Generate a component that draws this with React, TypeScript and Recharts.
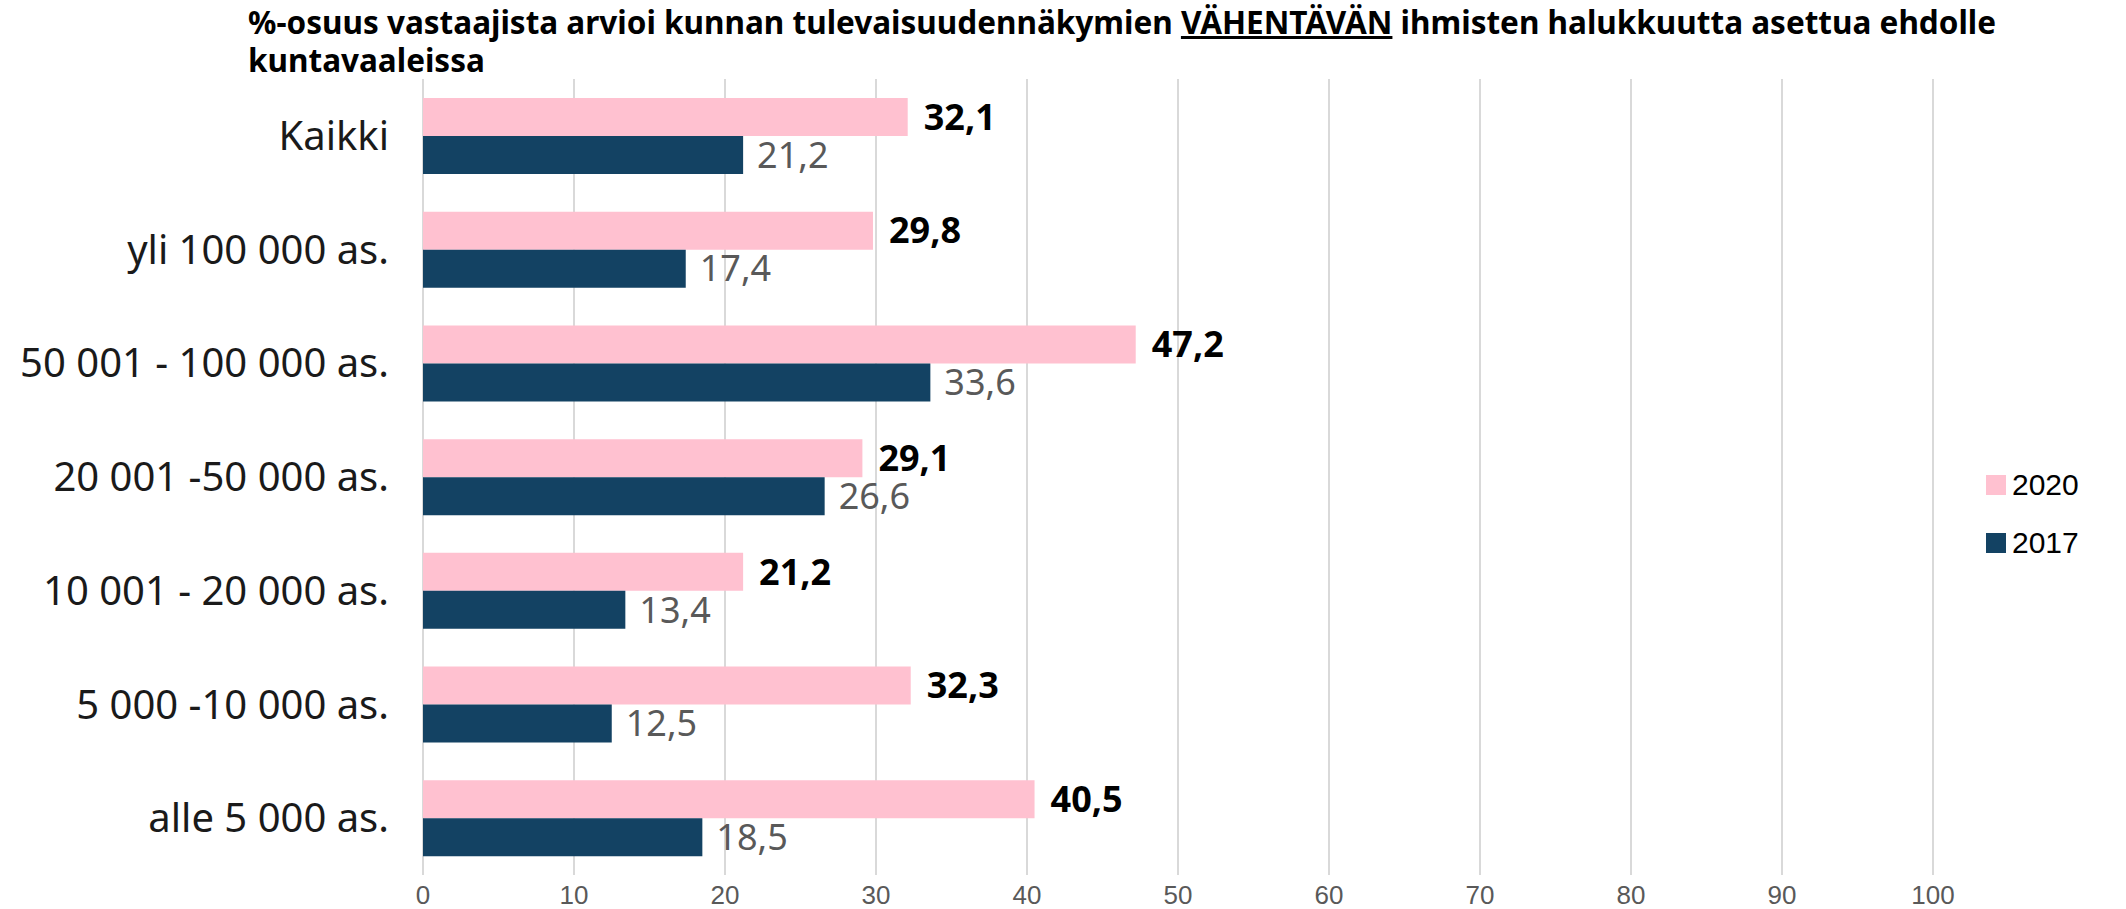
import { BarChart, Bar, XAxis, YAxis, CartesianGrid, LabelList } from 'recharts'

const categories = [
  'Kaikki',
  'yli 100 000 as.',
  '50 001 - 100 000 as.',
  '20 001 -50 000 as.',
  '10 001 - 20 000 as.',
  '5 000 -10 000 as.',
  'alle 5 000 as.',
]
const values2020 = [32.1, 29.8, 47.2, 29.1, 21.2, 32.3, 40.5]
const values2017 = [21.2, 17.4, 33.6, 26.6, 13.4, 12.5, 18.5]
const xTicks = [0, 10, 20, 30, 40, 50, 60, 70, 80, 90, 100]

const PINK = '#FFC1D0'
const NAVY = '#134263'
const FONT = '"Noto Sans", "Open Sans", sans-serif'
const ARIAL = '"Liberation Sans", Arial, sans-serif'

const data = categories.map((name, i) => ({
  name,
  y2020: values2020[i],
  y2017: values2017[i],
}))

const fmt = (v: any) => String(v).replace('.', ',')

function LegendBox() {
  const items = [
    { label: '2020', color: PINK },
    { label: '2017', color: NAVY },
  ]
  return (
    <div
      style={{
        position: 'absolute',
        left: 1986,
        top: 456,
        fontFamily: ARIAL,
        fontSize: 30,
        color: '#000',
      }}
    >
      {items.map(it => (
        <div key={it.label} style={{ display: 'flex', alignItems: 'center', height: 58 }}>
          <span style={{ width: 20, height: 20, background: it.color, display: 'inline-block', marginRight: 6 }} />
          <span>{it.label}</span>
        </div>
      ))}
    </div>
  )
}

const titleLine = {
  position: 'absolute' as const,
  left: 248,
  fontFamily: FONT,
  fontWeight: 700,
  fontSize: 31.5,
  lineHeight: '36px',
  height: 36,
  color: '#000',
  whiteSpace: 'nowrap' as const,
  zIndex: 2,
}

export default function App() {
  return (
    <div style={{ position: 'relative', width: 2126, height: 909, background: '#fff' }}>
      <style>{`body{margin:0}`}</style>
      <div style={{ ...titleLine, top: 4 }}>
        %-osuus vastaajista arvioi kunnan tulevaisuudennäkymien <u>VÄHENTÄVÄN</u> ihmisten halukkuutta asettua ehdolle
      </div>
      <div style={{ ...titleLine, top: 42 }}>kuntavaaleissa</div>
      <BarChart
        width={2126}
        height={909}
        data={data}
        layout="vertical"
        margin={{ top: 79, right: 193, bottom: 0, left: 0 }}
        barSize={38}
        barGap={0}
      >
        <CartesianGrid horizontal={false} stroke="#d9d9d9" strokeWidth={2} />
        <XAxis
          type="number"
          domain={[0, 100]}
          ticks={xTicks}
          height={34}
          axisLine={false}
          tickLine={false}
          tick={{ fill: '#595959', fontSize: 26, fontFamily: ARIAL }}
          tickMargin={5}
        />
        <YAxis
          type="category"
          dataKey="name"
          width={423}
          axisLine={false}
          tickLine={false}
          tickMargin={28}
          tick={{ fill: '#1a1a1a', fontSize: 40, fontFamily: FONT }}
        />
        <Bar dataKey="y2020" name="2020" fill={PINK} isAnimationActive={false}>
          <LabelList
            dataKey="y2020"
            position="right"
            offset={16}
            formatter={fmt}
            style={{ fill: '#000', fontWeight: 700, fontSize: 36, fontFamily: FONT }}
          />
        </Bar>
        <Bar dataKey="y2017" name="2017" fill={NAVY} isAnimationActive={false}>
          <LabelList
            dataKey="y2017"
            position="right"
            offset={14}
            formatter={fmt}
            style={{ fill: '#595959', fontSize: 36, fontFamily: FONT }}
          />
        </Bar>
      </BarChart>
      <LegendBox />
    </div>
  )
}
